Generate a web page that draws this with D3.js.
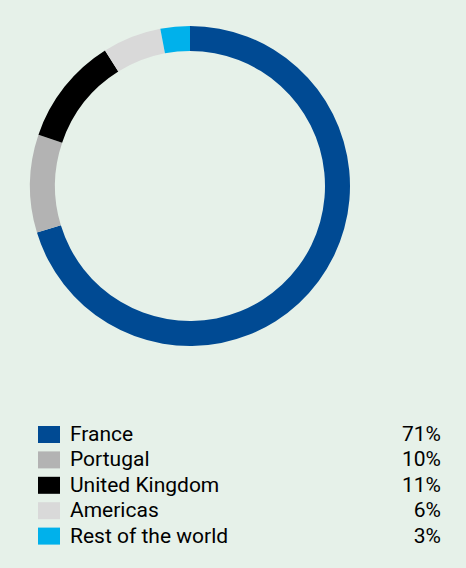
<!DOCTYPE html>
<html><head><meta charset="utf-8">
<script src="https://cdn.jsdelivr.net/npm/d3@7"></script>
<style>body{margin:0;background:#e6f1e9;}</style>
</head><body>
<script>
var regions = ["France", "Portugal", "United Kingdom", "Americas", "Rest of the world"];
var shares = [71, 10, 11, 6, 3];
var colors = ["#004a93", "#b3b3b3", "#000000", "#d9d9d9", "#00b1eb"];

var svg = d3.select("body").append("svg")
    .attr("width", 466).attr("height", 568);

var pie = d3.pie().sort(null).value(function(d) { return d; });
var arc = d3.arc().innerRadius(135).outerRadius(160);

svg.append("g")
    .attr("transform", "translate(190,186)")
    .selectAll("path")
    .data(pie(shares))
    .enter().append("path")
    .attr("d", arc)
    .attr("fill", function(d, i) { return colors[i]; });

var y = d3.scaleBand().domain(regions).range([421, 548]);

var row = svg.selectAll(".row")
    .data(regions)
    .enter().append("g")
    .attr("transform", function(d) { return "translate(0," + y(d) + ")"; });

row.append("rect")
    .attr("x", 38).attr("y", 5).attr("width", 22).attr("height", 17)
    .attr("fill", function(d, i) { return colors[i]; });

row.append("text")
    .attr("x", 70).attr("y", 20)
    .style("font-family", "Roboto").style("font-size", "21px")
    .text(function(d) { return d; });

row.append("text")
    .attr("x", 441).attr("y", 20).attr("text-anchor", "end")
    .style("font-family", "Roboto").style("font-size", "21px")
    .text(function(d, i) { return shares[i] + "%"; });
</script>
</body></html>
